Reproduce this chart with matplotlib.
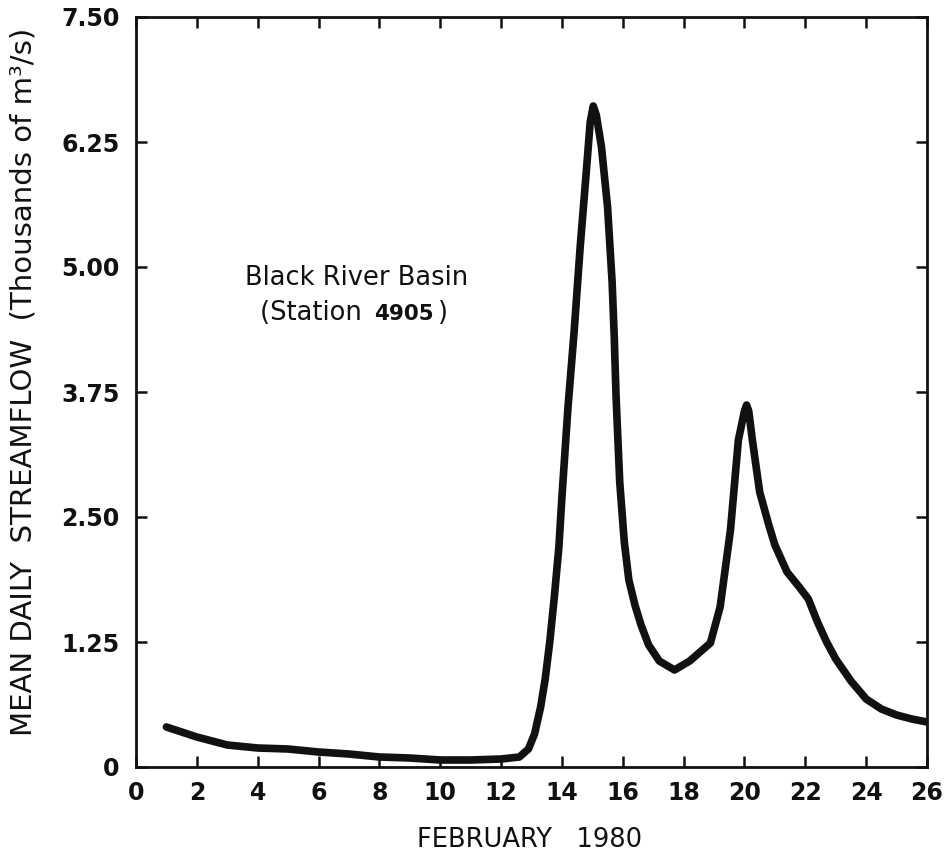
import matplotlib
matplotlib.use("Agg")
import matplotlib.pyplot as plt

plt.rcParams['font.family'] = ['DejaVu Sans']

# Data (day of February 1980, thousands of m3/s)
days = [1.0, 2.0, 3.0, 4.0, 5.0, 6.0, 7.0, 8.0, 9.0, 10.0, 11.0, 12.0, 12.6, 12.9,
        13.1, 13.3, 13.45, 13.6, 13.75, 13.9, 14.0, 14.2, 14.4, 14.6, 14.8, 14.93,
        15.03, 15.13, 15.3, 15.5, 15.65, 15.72, 15.78, 15.9, 16.05, 16.2, 16.4,
        16.6, 16.85, 17.2, 17.7, 18.2, 18.88, 19.2, 19.54, 19.8, 20.0, 20.07,
        20.14, 20.26, 20.5, 20.8, 21.0, 21.4, 21.8, 22.1, 22.4, 22.7, 23.0, 23.5,
        24.0, 24.5, 25.0, 25.5, 26.0]
flow = [0.40, 0.30, 0.22, 0.19, 0.18, 0.15, 0.13, 0.10, 0.09, 0.07, 0.07, 0.08, 0.10, 0.18,
        0.33, 0.60, 0.88, 1.25, 1.70, 2.20, 2.70, 3.60, 4.35, 5.20, 5.95, 6.45,
        6.61, 6.52, 6.20, 5.60, 4.85, 4.30, 3.70, 2.85, 2.25, 1.87, 1.62,
        1.42, 1.22, 1.06, 0.97, 1.06, 1.24, 1.60, 2.37, 3.27, 3.56, 3.62,
        3.56, 3.27, 2.75, 2.42, 2.22, 1.95, 1.80, 1.68, 1.45, 1.25, 1.08, 0.86,
        0.68, 0.58, 0.52, 0.48, 0.45]

xticks = list(range(0, 27, 2))
yticks = [0, 1.25, 2.50, 3.75, 5.00, 6.25, 7.50]
ytick_labels = ['0', '1.25', '2.50', '3.75', '5.00', '6.25', '7.50']

W, H = 952, 858
fig = plt.figure(figsize=(W / 100, H / 100), dpi=100)
ax = fig.add_axes([136 / W, 1 - 767 / H, (927 - 136) / W, (767 - 17) / H])

ax.plot(days, flow, color='#111111', lw=5.5, solid_joinstyle='round', solid_capstyle='round')

ax.set_xlim(0, 26)
ax.set_ylim(0, 7.5)
ax.set_xticks(xticks)
ax.set_xticklabels([str(t) for t in xticks])
ax.set_yticks(yticks)
ax.set_yticklabels(ytick_labels)

for s in ax.spines.values():
    s.set_linewidth(2.0)
    s.set_color('#111111')

ax.tick_params(axis='both', which='both', direction='in', length=8, width=1.8,
               top=True, right=True, colors='#111111', labelsize=17)
ax.tick_params(axis='x', pad=10)
ax.tick_params(axis='y', pad=12)
for lab in ax.get_xticklabels() + ax.get_yticklabels():
    lab.set_fontweight('bold')

fig.text(530 / W, 1 - 840 / H, 'FEBRUARY   1980', fontsize=18.5,
         ha='center', va='center', color='#111111')
fig.text(24 / W, 1 - 382 / H, 'MEAN DAILY  STREAMFLOW  (Thousands of m³/s)',
         fontsize=21, rotation=90, ha='center', va='center', color='#111111')

ax.text(7.25, 4.89, 'Black River Basin', fontsize=18.5, ha='center', va='center',
        color='#111111')
t2 = ax.text(4.08, 4.54, '(Station ', fontsize=18.5, ha='left', va='center',
             color='#111111')
t3 = ax.annotate('4905', xy=(1, 0.5), xycoords=t2, fontsize=15.5, fontweight='bold',
                 ha='left', va='center', xytext=(3, -1), textcoords='offset points',
                 color='#111111')
ax.annotate(')', xy=(1, 0.5), xycoords=t3, fontsize=18.5, color='#111111',
            ha='left', va='center', xytext=(3, 1), textcoords='offset points')

fig.savefig('out.png', dpi=100)
